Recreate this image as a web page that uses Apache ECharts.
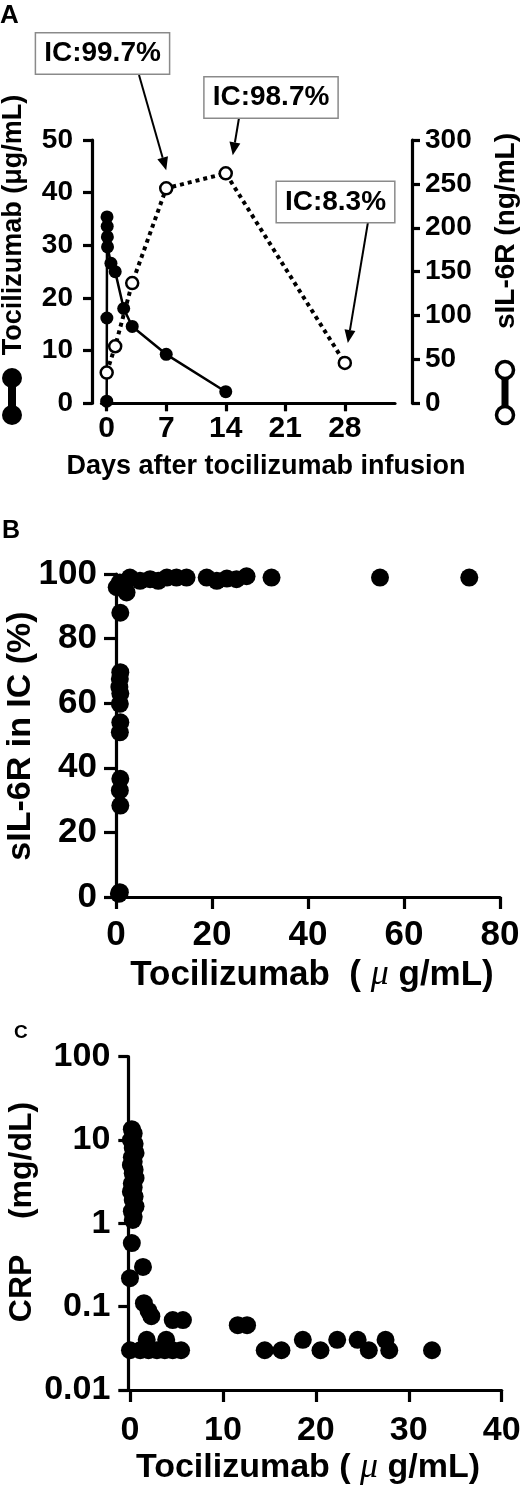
<!DOCTYPE html>
<html><head><meta charset="utf-8">
<script src="https://cdn.jsdelivr.net/npm/echarts@6/dist/echarts.min.js"></script>
<style>html,body{margin:0;padding:0;background:#fff}#c{width:520px;height:1488px}</style>
</head><body><div id="c"></div>
<script>
// ---------- Panel A ----------
const daysTick = [0, 7, 14, 21, 28];
const tociDays = [0, 0.02, 0.04, 0.06, 0.08, 0.1, 0.5, 1, 2, 3, 7, 14];
const tociConc = [0.4, 16.2, 35.4, 33.6, 31.6, 29.7, 26.6, 25.0, 18.0, 14.6, 9.3, 2.2];
const silDays = [0, 1, 3, 7, 14, 28];
const silConc = [35, 65, 137, 245, 262, 46];
const annText = ['IC:99.7%', 'IC:98.7%', 'IC:8.3%'];
const annIndex = [3, 4, 5];

// ---------- Panel B ----------
const bToci = [0.9, 0.9, 0.8, 0.7, 0.9, 0.8, 0.9, 0.8, 0.9, 0.8, 0.9, 0.8, 0.6,
  0.15, 1.2, 2.2, 0.8, 2.9, 5.0, 7.1, 8.8, 10.6, 12.6, 14.7, 18.9, 21.0, 23.1, 25.1, 27.2, 32.4, 55.0, 73.6];
const bIC = [88, 69.6, 67.5, 65, 63, 59.8, 54.1, 51, 36.6, 33, 28.3, 1.5, 1.0,
  95.9, 95.9, 94.3, 97.4, 98.9, 97.9, 98.4, 97.9, 98.9, 98.9, 98.9, 98.9, 97.9, 98.6, 98.4, 99.3, 98.9, 98.9, 98.9];

// ---------- Panel C ----------
const cToci = [0.2, 0.4, 0.1, 0.5, 0.3, 0.6, 0.2, 0.4, 0.1, 0.5, 0.3, 0.6, 0.2, 0.4, 0.1, 0.5, 0.3, 0.6, 0.2, 0.4, 0.3,
  0.2, 1.4, 0.0, 1.5, 2.0, 2.3, 4.6, 5.7, 11.6, 12.6, 1.8, 3.9,
  0.0, 1.1, 2.0, 2.9, 3.75, 4.6, 5.5, 14.5, 16.3, 18.6, 20.5, 22.3, 24.5, 25.7, 27.5, 27.9, 32.5];
const cCRP = [13.5, 12, 10, 9, 8, 7, 6.2, 5.5, 5, 4.4, 4, 3.5, 3, 2.7, 2.4, 2.1, 1.9, 1.6, 1.4, 1.2, 1.1,
  0.58, 0.30, 0.22, 0.11, 0.089, 0.077, 0.069, 0.069, 0.06, 0.06, 0.04, 0.04,
  0.03, 0.03, 0.03, 0.03, 0.03, 0.03, 0.03, 0.03, 0.03, 0.04, 0.03, 0.04, 0.04, 0.03, 0.04, 0.03, 0.03];
const cTicksX = [0, 10, 20, 30, 40];

const FONT = '"Liberation Sans", Arial, sans-serif';
const BLACK = '#000';
const zip = (a, b) => a.map((v, i) => [v, b[i]]);

function axisBase(o) {
  const lw = o.lw || 3.2;
  return {
    type: o.type || 'value', gridIndex: o.grid, position: o.position, offset: o.offset || 0,
    min: o.min, max: o.max, interval: o.interval, logBase: o.logBase,
    axisLine: { show: true, onZero: false, lineStyle: { color: BLACK, width: lw } },
    axisTick: { show: true, inside: false, length: o.tickLen, lineStyle: { color: BLACK, width: lw }, customValues: o.custom },
    axisLabel: { show: true, color: BLACK, fontFamily: FONT, fontWeight: 'bold', fontSize: o.fs, margin: o.margin,
      customValues: o.custom, formatter: o.formatter },
    splitLine: { show: false }, minorTick: { show: false }
  };
}

const chart = echarts.init(document.getElementById('c'), null, { renderer: 'canvas' });

const option = {
  animation: false,
  backgroundColor: '#fff',
  grid: [
    { left: 101.5, top: 140, width: 293.5, height: 263.3, outerBoundsMode: 'none', containLabel: false },
    { left: 116, top: 574, width: 384, height: 323, outerBoundsMode: 'none', containLabel: false },
    { left: 128.3, top: 1056.7, width: 373.4, height: 333.3, outerBoundsMode: 'none', containLabel: false }
  ],
  xAxis: [
    axisBase({ grid: 0, position: 'bottom', min: -0.61, max: 33.9, custom: daysTick, tickLen: 8, fs: 30, margin: 10 }),
    axisBase({ grid: 1, position: 'bottom', min: 0, max: 80, interval: 20, tickLen: 12, fs: 35, margin: 21 }),
    axisBase({ grid: 2, position: 'bottom', min: -0.18, max: 40, custom: cTicksX, tickLen: 12, fs: 34, margin: 24 })
  ],
  yAxis: [
    axisBase({ grid: 0, position: 'left', offset: 9.5, min: 0, max: 50, interval: 10, tickLen: 9, fs: 28, margin: 19 }),
    axisBase({ grid: 0, position: 'right', offset: 17, min: 0, max: 300, interval: 50, tickLen: 8, fs: 28, margin: 13 }),
    axisBase({ grid: 1, position: 'left', min: 0, max: 100, interval: 20, tickLen: 12, fs: 35, margin: 19 }),
    axisBase({ grid: 2, position: 'left', type: 'log', logBase: 10, min: 0.01, max: 100, tickLen: 10, fs: 34, margin: 18,
      formatter: v => { const e = Math.round(Math.log10(v)); return e >= 0 ? String(Math.pow(10, e)) : Math.pow(10, e).toFixed(-e); } })
  ],
  series: [
    { name: 'Tocilizumab', type: 'line', xAxisIndex: 0, yAxisIndex: 0, data: zip(tociDays, tociConc), clip: false,
      symbol: 'circle', symbolSize: 13, itemStyle: { color: BLACK, opacity: 1 }, lineStyle: { color: BLACK, width: 2.5 }, z: 3 },
    { name: 'sIL-6R', type: 'line', xAxisIndex: 0, yAxisIndex: 1, data: zip(silDays, silConc), clip: false,
      symbol: 'circle', symbolSize: 12, itemStyle: { color: '#fff', borderColor: BLACK, borderWidth: 2.5, opacity: 1 },
      lineStyle: { color: BLACK, width: 4, type: [4, 4] }, z: 4 },
    { name: 'IC', type: 'scatter', xAxisIndex: 1, yAxisIndex: 2, data: zip(bToci, bIC), clip: false,
      symbol: 'circle', symbolSize: 18, itemStyle: { color: BLACK, opacity: 1 } },
    { name: 'CRP', type: 'scatter', xAxisIndex: 2, yAxisIndex: 3, data: zip(cToci, cCRP), clip: false,
      symbol: 'circle', symbolSize: 18, itemStyle: { color: BLACK, opacity: 1 } }
  ]
};
chart.setOption(option);

// ---------- annotations & titles ----------
const boxCenters = [[102.5, 53.5], [271, 97.5], [335.5, 202]];
const arrowStarts = [[139, 75], [239, 118], [368, 222]];
const tipOffsets = [[0, -18], [7, -18], [3, -20]];

const g = [];
function txt(x, y, text, fs, rot, extra) {
  g.push({
    type: 'text', x: x, y: y, rotation: rot || 0,
    style: Object.assign({ text: text, fill: BLACK, font: 'bold ' + fs + 'px ' + FONT, align: 'center', verticalAlign: 'middle' }, extra || {})
  });
}
annText.forEach((t, i) => {
  const p = chart.convertToPixel({ xAxisIndex: 0, yAxisIndex: 1 }, [silDays[annIndex[i]], silConc[annIndex[i]]]);
  const tip = [p[0] + tipOffsets[i][0], p[1] + tipOffsets[i][1]];
  const s = arrowStarts[i];
  const ang = Math.atan2(tip[1] - s[1], tip[0] - s[0]);
  const L = 13, W = 5.5;
  const bx = tip[0] - L * Math.cos(ang), by = tip[1] - L * Math.sin(ang);
  g.push({ type: 'line', shape: { x1: s[0], y1: s[1], x2: bx, y2: by }, style: { stroke: BLACK, lineWidth: 2 } });
  g.push({ type: 'polygon', shape: { points: [tip,
    [bx + W * Math.sin(ang), by - W * Math.cos(ang)], [bx - W * Math.sin(ang), by + W * Math.cos(ang)]] },
    style: { fill: BLACK } });
  txt(boxCenters[i][0], boxCenters[i][1], t, 28, 0,
    { backgroundColor: '#fff', borderColor: '#8a8a8a', borderWidth: 1.5, padding: [6, 8] });
});

// panel letters
g.push({ type: 'text', x: 0, y: 3, style: { text: 'A', fill: BLACK, font: 'bold 26px ' + FONT } });
g.push({ type: 'text', x: 2, y: 519, style: { text: 'B', fill: BLACK, font: 'bold 25px ' + FONT } });
g.push({ type: 'text', x: 14, y: 1023, style: { text: 'C', fill: BLACK, font: 'bold 19px ' + FONT } });

// panel A titles & legend glyphs
txt(14, 225, 'Tocilizumab (μg/mL)', 27, Math.PI / 2);
txt(506, 231, 'sIL-6R (ng/mL)', 28, Math.PI / 2);
txt(266, 467, 'Days after tocilizumab infusion', 27, 0);
g.push({ type: 'rect', shape: { x: 8, y: 378, width: 8, height: 37 }, style: { fill: BLACK } });
g.push({ type: 'circle', shape: { cx: 12, cy: 378, r: 10 }, style: { fill: BLACK } });
g.push({ type: 'circle', shape: { cx: 12, cy: 415, r: 10 }, style: { fill: BLACK } });
g.push({ type: 'rect', shape: { x: 501.5, y: 376, width: 7, height: 31 }, style: { fill: BLACK } });
g.push({ type: 'circle', shape: { cx: 505, cy: 370, r: 8.5 }, style: { fill: '#fff', stroke: BLACK, lineWidth: 3.5 } });
g.push({ type: 'circle', shape: { cx: 505, cy: 415, r: 8.5 }, style: { fill: '#fff', stroke: BLACK, lineWidth: 3.5 } });

// panel B titles
const muStyle = { mu: { fontFamily: 'Liberation Serif', fontStyle: 'italic', fontWeight: 'normal', fontSize: 36, fill: BLACK } };
txt(21, 736, 'sIL-6R in IC (%)', 34, Math.PI / 2);
txt(312, 975, 'Tocilizumab  ( {mu|μ} g/mL)', 35, 0, { rich: muStyle });

// panel C titles
txt(22, 1212, 'CRP    (mg/dL)', 32, Math.PI / 2);
txt(308, 1468, 'Tocilizumab ( {mu|μ} g/mL)', 34, 0, { rich: muStyle });

chart.setOption({ graphic: { elements: g } });
</script>
</body></html>
